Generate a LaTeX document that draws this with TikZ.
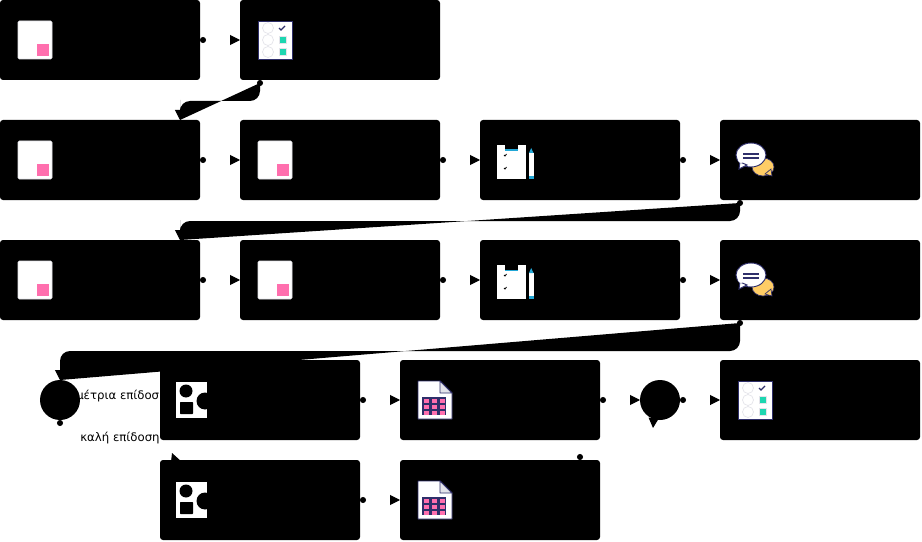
\documentclass[tikz,border=0pt]{standalone}
\usepackage{fontspec}
\setmainfont{DejaVu Sans}
\usetikzlibrary{arrows.meta,backgrounds}
\definecolor{inknavy}{HTML}{2F2F6B}
\definecolor{softgrey}{HTML}{E4E4EA}
\definecolor{pinkmark}{HTML}{FF6FAE}
\definecolor{tealmark}{HTML}{1DD6B0}
\definecolor{orangebub}{HTML}{FFCD66}
\definecolor{cyanclip}{HTML}{22A7D6}
\tikzset{
  stepbox/.style={rectangle,fill=black,rounded corners=2.25pt,minimum width=150pt,minimum height=60pt,inner sep=0pt,outer sep=0pt},
  gate/.style={circle,fill=black,minimum size=30pt,inner sep=0pt,outer sep=0pt},
  choice/.style={font=\fontsize{8.8pt}{11pt}\selectfont,inner sep=0pt,anchor=west},
  flow/.style={draw=white,line width=0.75pt,arrows={Circle[length=4.5pt,color=black,fill=black]-Triangle[length=7.5pt,width=7.5pt,color=black,fill=black]}},
  flowbent/.style={flow,rounded corners=7.5pt},
  notepic/.pic={
    \draw[fill=white,draw=softgrey,rounded corners=1pt] (18,21) rectangle (52,59);
    \fill[pinkmark] (37,44) rectangle (49,56);
  },
  checkpic/.pic={
    \draw[fill=white,draw=inknavy,line width=0.7pt] (18.5,21) rectangle (52,59);
    \foreach \yy in {28,40,52} \draw[softgrey,line width=0.5pt] (28,\yy) circle[radius=5.5];
    \draw[inknavy,line width=1pt] (39,28) -- (41,30) -- (45,26);
    \fill[softgrey] (39,36) rectangle (47,44);
    \fill[tealmark] (40,37) rectangle (46,43);
    \fill[softgrey] (39,48) rectangle (47,56);
    \fill[tealmark] (40,49) rectangle (46,55);
  },
  clippic/.pic={
    \fill[white] (17,25) rectangle (46,59);
    \fill[black] (24.5,24) rectangle (37.5,29.5);
    \fill[cyanclip] (24.5,29.5) rectangle (37.5,31);
    \draw[black,line width=0.6pt] (24,35) -- (25,36) -- (26.5,34);
    \draw[black,line width=0.6pt] (24,48) -- (25,49) -- (26.5,47);
    \fill[white] (49,33) rectangle (53.5,56);
    \fill[cyanclip] (49,33) -- (51.2,28) -- (53.5,33) -- cycle;
    \fill[cyanclip] (49,56) rectangle (53.5,59);
  },
  chatpic/.pic={
    \draw[fill=orangebub,draw=inknavy,line width=0.5pt] (43,47) circle[x radius=11,y radius=9];
    \draw[fill=orangebub,draw=inknavy,line width=0.5pt] (45,54) -- (52,56) -- (51,49) -- cycle;
    \draw[fill=white,draw=inknavy,line width=0.7pt] (31,35) circle[x radius=15,y radius=12];
    \draw[fill=white,draw=inknavy,line width=0.7pt] (20,42) -- (19,49) -- (27,45) -- cycle;
    \fill[white] (21,40) circle[radius=3];
    \draw[inknavy,line width=1pt] (23,34) -- (39,34) (23,38) -- (39,38);
  },
  shapepic/.pic={
    \fill[white] (16,22) rectangle (47,58);
    \fill[black] (26,31) circle[radius=6.5];
    \fill[black,rounded corners=0.5pt] (20,42) rectangle (33,54);
    \fill[black] (45,41) circle[radius=8.5];
  },
  sheetpic/.pic={
    \draw[fill=white,draw=inknavy,line width=0.7pt,line join=round] (18,21) -- (40,21) -- (52,33) -- (52,59) -- (18,59) -- cycle;
    \draw[fill=softgrey,draw=inknavy,line width=0.7pt,line join=round] (40,21) -- (40,33) -- (52,33) -- cycle;
    \fill[inknavy] (22,37) rectangle (46,55);
    \foreach \xx in {23.5,31.5,39.5} \foreach \yy in {38.5,44.5,50.5} \fill[pinkmark] (\xx,\yy) rectangle ++(5.5,4);
  }
}
\begin{document}
\begin{tikzpicture}[x=0.75pt,y=-0.75pt]
  \useasboundingbox (0,0) rectangle (922,542);
  % gateway labels sit under the boxes
  \node[choice] (medium) at (76,396.5) {μέτρια επίδοση};
  \node[choice] (good) at (80,438.5) {καλή επίδοση};
  % boxes, row by row
  \node[stepbox] (a1) at (100,40) {};
  \node[stepbox] (a2) at (340,40) {};
  \node[stepbox] (b1) at (100,160) {};
  \node[stepbox] (b2) at (340,160) {};
  \node[stepbox] (b3) at (580,160) {};
  \node[stepbox] (b4) at (820,160) {};
  \node[stepbox] (c1) at (100,280) {};
  \node[stepbox] (c2) at (340,280) {};
  \node[stepbox] (c3) at (580,280) {};
  \node[stepbox] (c4) at (820,280) {};
  \node[gate] (gate1) at (60,400) {};
  \node[stepbox] (d1) at (260,400) {};
  \node[stepbox] (d2) at (500,400) {};
  \node[gate] (gate2) at (660,400) {};
  \node[stepbox] (d3) at (820,400) {};
  \node[stepbox] (e1) at (260,500) {};
  \node[stepbox] (e2) at (500,500) {};
  % free ends of the bent connectors
  \coordinate (a2out) at (260,80);
  \coordinate (b1in) at (180,120);
  \coordinate (b4out) at (740,200);
  \coordinate (c1in) at (180,240);
  \coordinate (c4out) at (740,320);
  \coordinate (gate1in) at (60,380);
  \coordinate (e1in) at (172,453);
  \coordinate (e2out) at (580,460);
  \coordinate (gate2in) at (653,428);
  \begin{scope}[on background layer]
    \draw[flow] (e2out) .. controls (580,400) and (655,400) .. (gate2in);
    \draw[flow] (gate1.south) .. controls (60,480) and (180,474) .. (e1in);
    \draw[flow] (a1) -- (a2);
    \draw[flow] (b1) -- (b2);
    \draw[flow] (b2) -- (b3);
    \draw[flow] (b3) -- (b4);
    \draw[flow] (c1) -- (c2);
    \draw[flow] (c2) -- (c3);
    \draw[flow] (c3) -- (c4);
    \draw[flow] (d1) -- (d2);
    \draw[flow] (d2) -- (gate2);
    \draw[flow] (gate2) -- (d3);
    \draw[flow] (e1) -- (e2);
    % the bent ones are filled up to the tip
    \draw[flowbent] (a2out) -- ++(0,21) -| (b1in);
    \fill (a2out) ++(0,3) [rounded corners=7.5pt] -- ++(0,18) -| (180,110) [sharp corners] -- (b1in) -- cycle;
    \draw[flowbent] (b4out) -- ++(0,21) -| (c1in);
    \fill (b4out) ++(0,3) [rounded corners=7.5pt] -- ++(0,18) -| (180,230) [sharp corners] -- (c1in) -- cycle;
    \draw[flowbent] (c4out) -- ++(0,31) -| (gate1in);
    \fill (c4out) ++(0,3) [rounded corners=7.5pt] -- ++(0,28) -| (60,370) [sharp corners] -- (gate1in) -- cycle;
  \end{scope}
  % icons
  \pic at (a1.north west) {notepic};
  \pic at (a2.north west) {checkpic};
  \pic at (b1.north west) {notepic};
  \pic at (b2.north west) {notepic};
  \pic at (b3.north west) {clippic};
  \pic at (b4.north west) {chatpic};
  \pic at (c1.north west) {notepic};
  \pic at (c2.north west) {notepic};
  \pic at (c3.north west) {clippic};
  \pic at (c4.north west) {chatpic};
  \pic at (d1.north west) {shapepic};
  \pic at (d2.north west) {sheetpic};
  \pic at (d3.north west) {checkpic};
  \pic at (e1.north west) {shapepic};
  \pic at (e2.north west) {sheetpic};
\end{tikzpicture}
\end{document}
